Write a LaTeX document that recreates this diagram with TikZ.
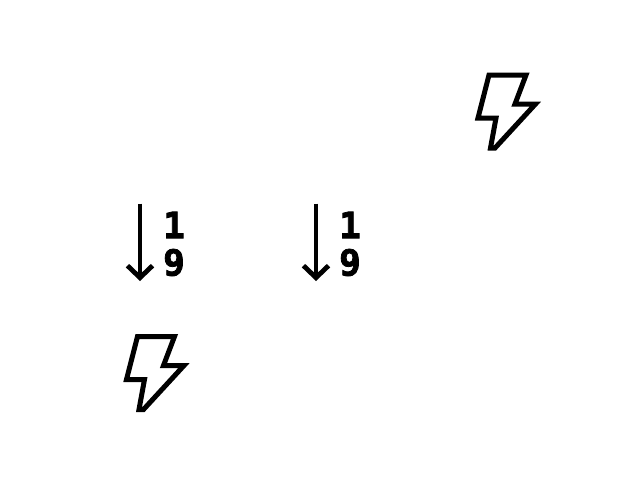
\documentclass[tikz,border=0pt]{standalone}
\usepackage{fontspec}
\newfontfamily\digitfont[BoldFeatures={FakeBold=2.2}]{DejaVu Sans Mono}
\usetikzlibrary{arrows.meta}
\definecolor{ink}{HTML}{000000}
\tikzset{
  bolt/.style={draw=ink, line width=5pt, line join=miter, miter limit=10},
  down/.style={draw=ink, line width=4.8pt, -{Straight Barb[length=12pt,width=25pt,line width=4.8pt]}},
  num/.style={text=ink, font=\digitfont\bfseries\fontsize{36pt}{36pt}\selectfont, inner sep=0pt},
}
\begin{document}
\begin{tikzpicture}[x=1pt,y=-1pt]
  \useasboundingbox (0,0) rectangle (640,480);
  \fill[white] (0,0) rectangle (640,480);
  % lightning bolts
  \foreach \X/\Y in {0/0,-351.5/261.5}
    \draw[bolt,shift={(\X,\Y)}] (489,75)--(526,75)--(515,104)--(535.5,104)--(495,148)--(490.5,148)--(496,118)--(478,118)--cycle;
  % fraction arrows
  \foreach \X/\name in {140/a,316/b}{
    \coordinate (\name top) at (\X,203.5);
    \coordinate (\name tip) at (\X,281);
    \draw[down] (\name top)--(\name tip);
    \node[num] (\name one) at (\X+34,225) {1};
    \node[num] (\name nine) at (\X+34,262.5) {9};
  }
\end{tikzpicture}
\end{document}
